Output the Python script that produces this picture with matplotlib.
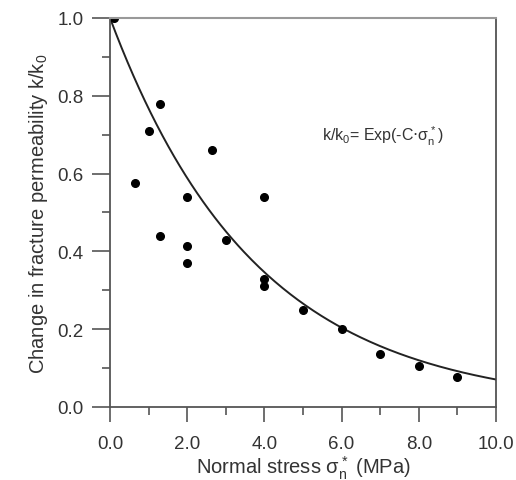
import numpy as np
import matplotlib.pyplot as plt
from matplotlib.ticker import MultipleLocator

plt.rcParams['font.family'] = ['Liberation Sans', 'DejaVu Sans']

# measured points
stress = [0.1, 0.65, 1.0, 1.3, 1.3, 2.0, 2.0, 2.0, 2.65, 3.0, 4.0, 4.0, 4.0, 5.0, 6.0, 7.0, 8.0, 9.0]
perm = [1.0, 0.575, 0.71, 0.78, 0.44, 0.54, 0.415, 0.37, 0.66, 0.43, 0.54, 0.33, 0.31, 0.25, 0.20, 0.137, 0.105, 0.078]

# fitted curve k/k0 = exp(-C*sigma)
C = 0.265
xfit = np.linspace(0, 10, 200)
yfit = np.exp(-C * xfit)

fig = plt.figure(figsize=(5.16, 4.81), dpi=100)
ax = fig.add_axes([0.2132, 0.1518, 0.748, 0.8087])

ax.plot(xfit, yfit, color='#222222', lw=1.4)
ax.plot(stress, perm, 'o', color='black', ms=5.5)

ax.set_xlim(0, 10)
ax.set_ylim(0, 1.0)
ax.xaxis.set_major_locator(MultipleLocator(2))
ax.xaxis.set_minor_locator(MultipleLocator(1))
ax.yaxis.set_major_locator(MultipleLocator(0.2))
ax.yaxis.set_minor_locator(MultipleLocator(0.1))
ax.xaxis.set_major_formatter(lambda v, p: f'{v:.1f}')
ax.yaxis.set_major_formatter(lambda v, p: f'{v:.1f}')

ax.tick_params(which='major', direction='out', width=1.2, color='#555555',
               labelsize=13.5, labelcolor='#333333')
ax.tick_params(axis='y', which='major', length=13, pad=6)
ax.tick_params(axis='x', which='major', length=11, pad=9)
ax.tick_params(which='minor', direction='out', length=6, width=1.2, color='#555555')

for s in ['left', 'bottom']:
    ax.spines[s].set_color('#555555')
    ax.spines[s].set_linewidth(1.3)
ax.spines['top'].set_color('#999999')
ax.spines['top'].set_linewidth(1.5)
ax.spines['right'].set_color('#444444')
ax.spines['right'].set_linewidth(1.2)

ax.set_xlabel(r'Normal stress $\mathregular{\sigma_n^*}$ (MPa)', fontsize=14.5, color='#333333', labelpad=1)
ax.set_ylabel(r'Change in fracture permeability k/k$\mathregular{_0}$', fontsize=14.5, color='#333333', labelpad=5)

ax.text(0.707, 0.697, r'k/k$\mathregular{_0}$= Exp(-C$\cdot\mathregular{\sigma_n^*}$)', transform=ax.transAxes,
        ha='center', va='center', fontsize=11.5, color='#333333')

plt.savefig('out.png', dpi=100)
